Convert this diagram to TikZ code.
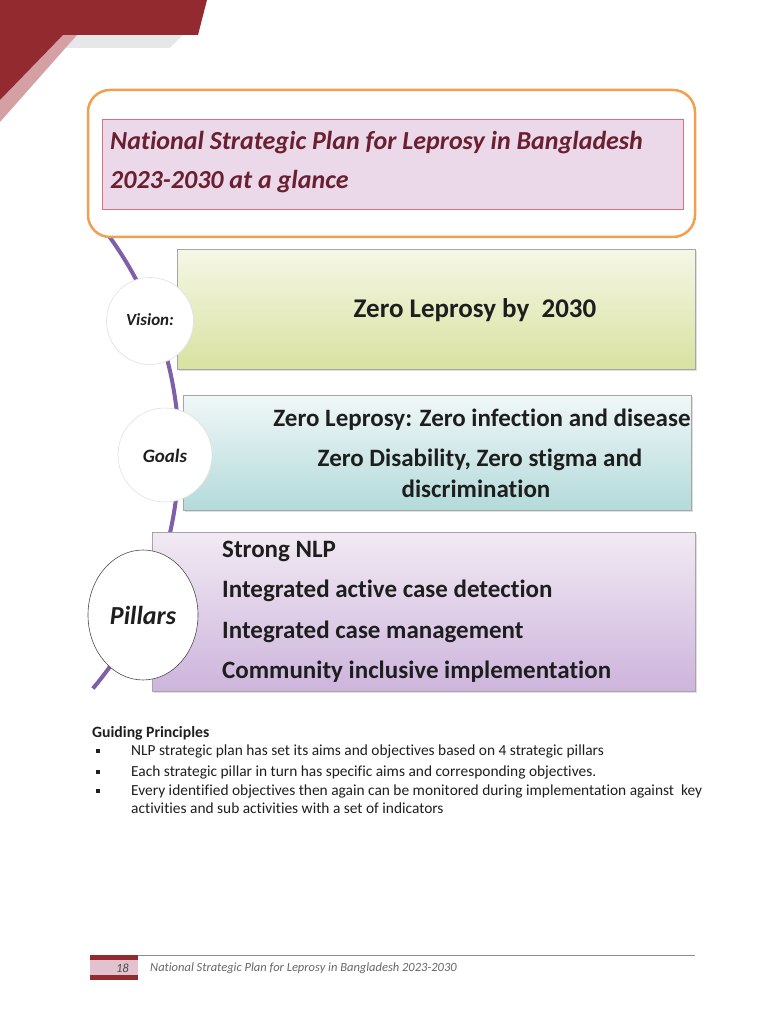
\documentclass[tikz,border=0pt]{standalone}
\usepackage{fontspec}
\setmainfont{Carlito}[RawFeature={-liga}]
\usetikzlibrary{shadows,shapes.geometric}
\definecolor{dred}{HTML}{932A30}
\definecolor{pshadow}{HTML}{D4A0A4}
\definecolor{gshadow}{HTML}{E6E7E8}
\definecolor{orng}{HTML}{F0A050}
\definecolor{tpink}{HTML}{EBD9EA}
\definecolor{tpinkb}{HTML}{D9707E}
\definecolor{tmaroon}{HTML}{6A2030}
\definecolor{purp}{HTML}{7F60A8}
\definecolor{txt}{HTML}{1E1E1E}
\tikzset{
  x=1pt,y=1pt,
  panel/.style={draw=black!35, line width=0.6pt, drop shadow={opacity=0.25, shadow xshift=1.5pt, shadow yshift=-1.5pt}},
  badge/.style={fill=white, draw=black!12, line width=0.6pt},
  bigtxt/.style={text=txt, font=\bfseries\fontsize{25}{28}\selectfont, inner sep=0pt},
  gtxt/.style={text=txt, font=\fontsize{15.4}{18}\selectfont, anchor=west, inner sep=0pt},
  bul/.style={fill=txt, minimum size=3.2pt, inner sep=0pt},
}
\begin{document}
\begin{tikzpicture}
\useasboundingbox (0,0) rectangle (778,1024);
% corner decoration
\fill[gshadow] (70,989) -- (183,989) -- (170,976) -- (66,976) -- cycle;
\fill[pshadow] (63,989) -- (77,989) -- (0,902) -- (0,924) -- cycle;
\fill[dred] (0,1024) -- (207,1024) -- (198,989) -- (63,989) -- (0,924) -- cycle;
% purple arc
\draw[purp, line width=4pt] (-189,572) ++(36:368) coordinate (arcS) arc (36:-40:368) coordinate (arcE);
% title
\draw[orng, line width=2.5pt, fill=white, rounded corners=22pt] (88,787) rectangle (695,934);
\node[fill=tpink, draw=tpinkb, line width=0.8pt, minimum width=581pt, minimum height=90pt, anchor=south west, inner sep=0pt] (titlebox) at (102,814) {};
\node[anchor=west, align=left, text=tmaroon, font=\bfseries\itshape\fontsize{26}{39}\selectfont, inner sep=0pt] (title) at (110,862)
  {National Strategic Plan for Leprosy in Bangladesh\\2023-2030 at a glance};
% vision
\node[panel, top color={rgb,255:red,245;green,247;blue,230}, bottom color={rgb,255:red,216;green,226;blue,160}, minimum width=518pt, minimum height=120pt, anchor=south west, inner sep=0pt] (visbox) at (177,654) {};
\node[badge, circle, minimum size=87pt] (viscirc) at (150,703) {};
\node[text=txt, font=\bfseries\itshape\fontsize{17}{20}\selectfont] (vislab) at (150,704) {Vision:};
\node[bigtxt, font=\bfseries\fontsize{27}{30}\selectfont] (vistxt) at (475,714) {Zero Leprosy by\ \ 2030};
% goals
\node[panel, top color={rgb,255:red,240;green,247;blue,247}, bottom color={rgb,255:red,179;green,218;blue,218}, minimum width=508pt, minimum height=115pt, anchor=south west, inner sep=0pt] (goalbox) at (183,513) {};
\node[badge, circle, minimum size=94pt] (goalcirc) at (165,569) {};
\node[text=txt, font=\bfseries\itshape\fontsize{19}{22}\selectfont] (goallab) at (165,568) {Goals};
\node[bigtxt] (g1) at (482,604) {Zero Leprosy: Zero infection and disease};
\node[bigtxt] (g2) at (480,564) {Zero Disability, Zero stigma and};
\node[bigtxt] (g3) at (476,535) {discrimination};
% pillars
\node[panel, top color={rgb,255:red,241;green,234;blue,243}, bottom color={rgb,255:red,205;green,180;blue,220}, minimum width=543pt, minimum height=159pt, anchor=south west, inner sep=0pt] (pilbox) at (152,332) {};
\node[fill=white, draw=black!70, line width=0.6pt, ellipse, minimum width=110pt, minimum height=130pt, inner sep=0pt] (pilcirc) at (143,409) {};
\node[text=txt, font=\bfseries\itshape\fontsize{26}{30}\selectfont] (pillab) at (143,409) {Pillars};
\node[bigtxt, anchor=west] (p1) at (222,473) {Strong NLP};
\node[bigtxt, anchor=west] (p2) at (222,433) {Integrated active case detection};
\node[bigtxt, anchor=west] (p3) at (222,392) {Integrated case management};
\node[bigtxt, anchor=west] (p4) at (222,352) {Community inclusive implementation};
% guiding principles
\node[gtxt, font=\bfseries\fontsize{15.7}{18}\selectfont] (gp) at (92,291) {Guiding Principles};
\node[bul] (b1) at (98,273) {};
\node[bul] (b2) at (98,252) {};
\node[bul] (b3) at (98,233) {};
\node[gtxt] (t1) at (131,273) {NLP strategic plan has set its aims and objectives based on 4 strategic pillars};
\node[gtxt] (t2) at (131,252) {Each strategic pillar in turn has specific aims and corresponding objectives.};
\node[gtxt] (t3) at (131,233) {Every identified objectives then again can be monitored during implementation against\ \ key};
\node[gtxt] (t4) at (131,216) {activities and sub activities with a set of indicators};
% footer
\draw[black!45, line width=0.8pt] (90,69) coordinate (fl) -- (695,69) coordinate (fr);
\fill[dred] (90,44) rectangle (138,69);
\fill[tpink!60!pshadow] (90,49) rectangle (138,64);
\node[anchor=east, text=black!70, font=\itshape\fontsize{12.5}{14}\selectfont, inner sep=0pt] (pg) at (129,56) {18};
\node[anchor=west, text=black!60, font=\itshape\fontsize{12.5}{14}\selectfont, inner sep=0pt] (ft) at (150,56) {National Strategic Plan for Leprosy in Bangladesh 2023-2030};
\end{tikzpicture}
\end{document}
